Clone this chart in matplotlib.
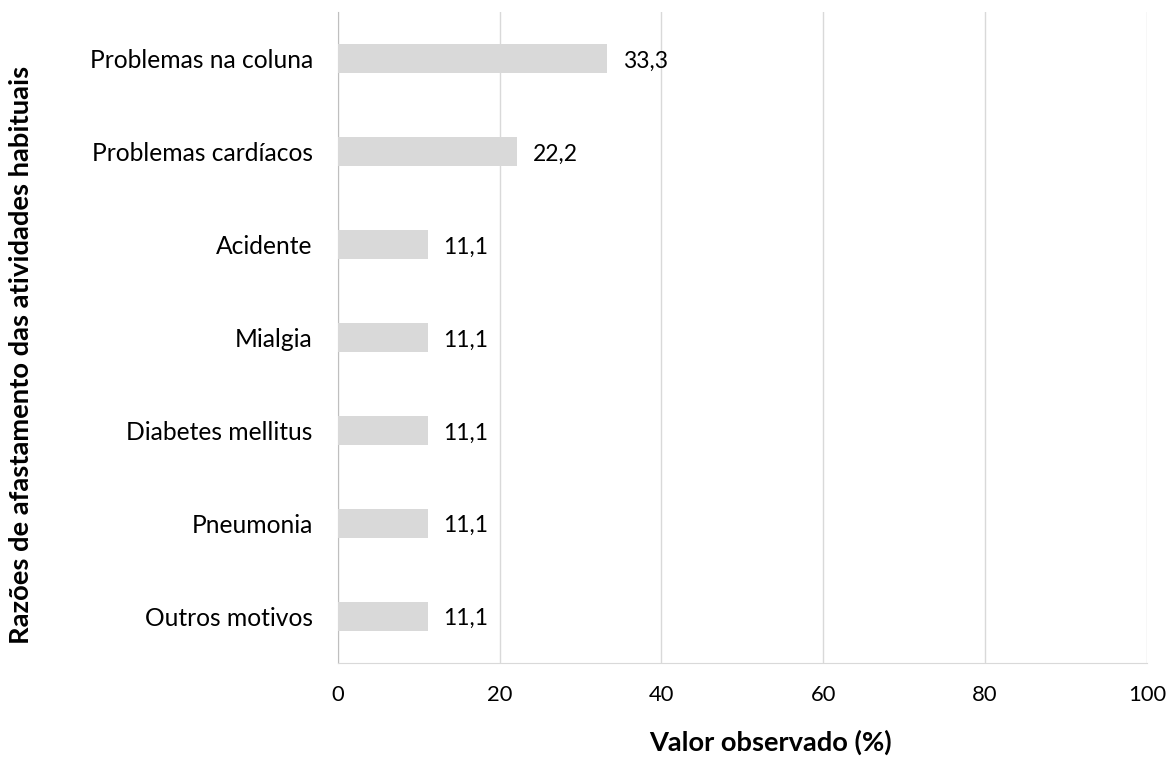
import numpy as np
import matplotlib.pyplot as plt

plt.rcParams['font.family'] = ['Lato', 'DejaVu Sans']

# dados
categorias = ["Problemas na coluna", "Problemas cardíacos", "Acidente", "Mialgia",
              "Diabetes mellitus", "Pneumonia", "Outros motivos"]
valores = [33.3, 22.2, 11.1, 11.1, 11.1, 11.1, 11.1]
rotulos = ["33,3", "22,2", "11,1", "11,1", "11,1", "11,1", "11,1"]
xticks = [0, 20, 40, 60, 80, 100]

fig = plt.figure(figsize=(11.69, 7.57), dpi=100)
ax = fig.add_axes([0.289, 0.1242, 0.692, 0.8598])

pos = np.arange(len(categorias))[::-1]
ax.barh(pos, valores, height=0.31, color="#d9d9d9", zorder=3)
for p, v, r in zip(pos, valores, rotulos):
    ax.text(v + 1.95, p - 0.025, r, va="center", ha="left", fontsize=16.5, color="#000000")

ax.set_xlim(0, 100)
ax.set_ylim(-0.5, 6.5)
ax.set_yticks(pos)
ax.set_yticklabels(categorias, fontsize=17.7)
ax.set_xticks(xticks)
ax.set_xticklabels([str(t) for t in xticks], fontsize=15.8)
ax.tick_params(axis="x", length=0, pad=16)
ax.tick_params(axis="y", length=0, pad=18)
ax.grid(axis="x", color="#d9d9d9", linewidth=1, zorder=0)
for s in ["top", "right"]:
    ax.spines[s].set_visible(False)
ax.spines["left"].set_color("#bfbfbf")
ax.spines["bottom"].set_color("#d9d9d9")

# titulos dos eixos
fig.text(0.6595, 0.019, "Valor observado (%)", fontsize=19.6, fontweight="bold",
         ha="center", va="center")
fig.text(0.018, 0.531, "Razões de afastamento das atividades habituais", rotation=90,
         fontsize=19.7, fontweight="bold", ha="center", va="center")

fig.savefig("out.png", dpi=100)
